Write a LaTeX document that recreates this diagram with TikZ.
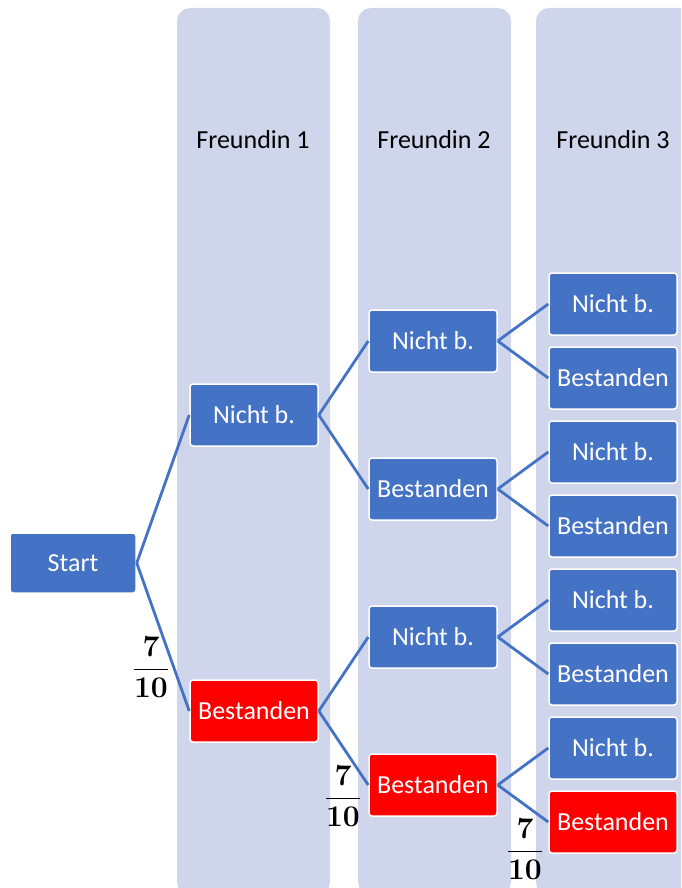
\RequirePackage{fix-cm}
\documentclass[tikz,border=0pt]{standalone}
\usepackage[no-math]{fontspec}
\setmainfont{Carlito}
\usepackage{amsmath}
\definecolor{boxblue}{RGB}{68,114,196}
\definecolor{boxred}{RGB}{255,0,0}
\definecolor{colbg}{RGB}{207,213,234}
\newcommand{\sevententh}{\ensuremath{\displaystyle\mathbf{\frac{7}{10}}}}
\begin{document}
\begin{tikzpicture}[x=1pt, y=-1pt,
        column/.style={fill=colbg, rounded corners=13pt},
        head/.style={font=\fontsize{26}{30}\selectfont, text=black},
        state/.style={draw=white, line width=1.5pt, fill=boxblue, text=white, rounded corners=3pt,
                minimum width=128pt, minimum height=62pt, inner sep=0pt, font=\fontsize{26}{30}\selectfont},
        hit/.style={state, fill=boxred},
        branch/.style={draw=boxblue, line width=2.8pt},
        prob/.style={font=\fontsize{30}{36}\selectfont, inner sep=0pt}]
                \useasboundingbox (0,0) rectangle (681,888);
                \clip (0,0) rectangle (681,888);
                \fill[column] (177,8) rectangle (330,895);
                \fill[column] (358,8) rectangle (511,895);
                \fill[column] (536,8) rectangle (710,895);
                \node[head] (h1) at (253,140) {Freundin 1};
                \node[head] (h2) at (434,140) {Freundin 2};
                \node[head] (h3) at (613,140) {Freundin 3};
                \node[state, minimum width=126pt, minimum height=60pt] (start) at (73,563) {Start};
                \node[state] (a) at (254,415) {Nicht b.};
                \node[hit] (b) at (254,711) {Bestanden};
                \node[state] (aa) at (433,341) {Nicht b.};
                \node[state] (ab) at (433,489) {Bestanden};
                \node[state] (ba) at (433,637) {Nicht b.};
                \node[hit] (bb) at (433,785) {Bestanden};
                \node[state] (aaa) at (613,304) {Nicht b.};
                \node[state] (aab) at (613,378) {Bestanden};
                \node[state] (aba) at (613,452) {Nicht b.};
                \node[state] (abb) at (613,526) {Bestanden};
                \node[state] (baa) at (613,600) {Nicht b.};
                \node[state] (bab) at (613,674) {Bestanden};
                \node[state] (bba) at (613,748) {Nicht b.};
                \node[hit] (bbb) at (613,822) {Bestanden};
                \draw[branch] (start.east) -- (a.west);
                \draw[branch] (start.east) -- (b.west);
                \draw[branch] (a.east) -- (aa.west);
                \draw[branch] (a.east) -- (ab.west);
                \draw[branch] (b.east) -- (ba.west);
                \draw[branch] (b.east) -- (bb.west);
                \draw[branch] (aa.east) -- (aaa.west);
                \draw[branch] (aa.east) -- (aab.west);
                \draw[branch] (ab.east) -- (aba.west);
                \draw[branch] (ab.east) -- (abb.west);
                \draw[branch] (ba.east) -- (baa.west);
                \draw[branch] (ba.east) -- (bab.west);
                \draw[branch] (bb.east) -- (bba.west);
                \draw[branch] (bb.east) -- (bbb.west);
                \node[prob] (p1) at (151,667) {\sevententh};
                \node[prob] (p2) at (343,796) {\sevententh};
                \node[prob] (p3) at (525,849) {\sevententh};
\end{tikzpicture}
\end{document}
